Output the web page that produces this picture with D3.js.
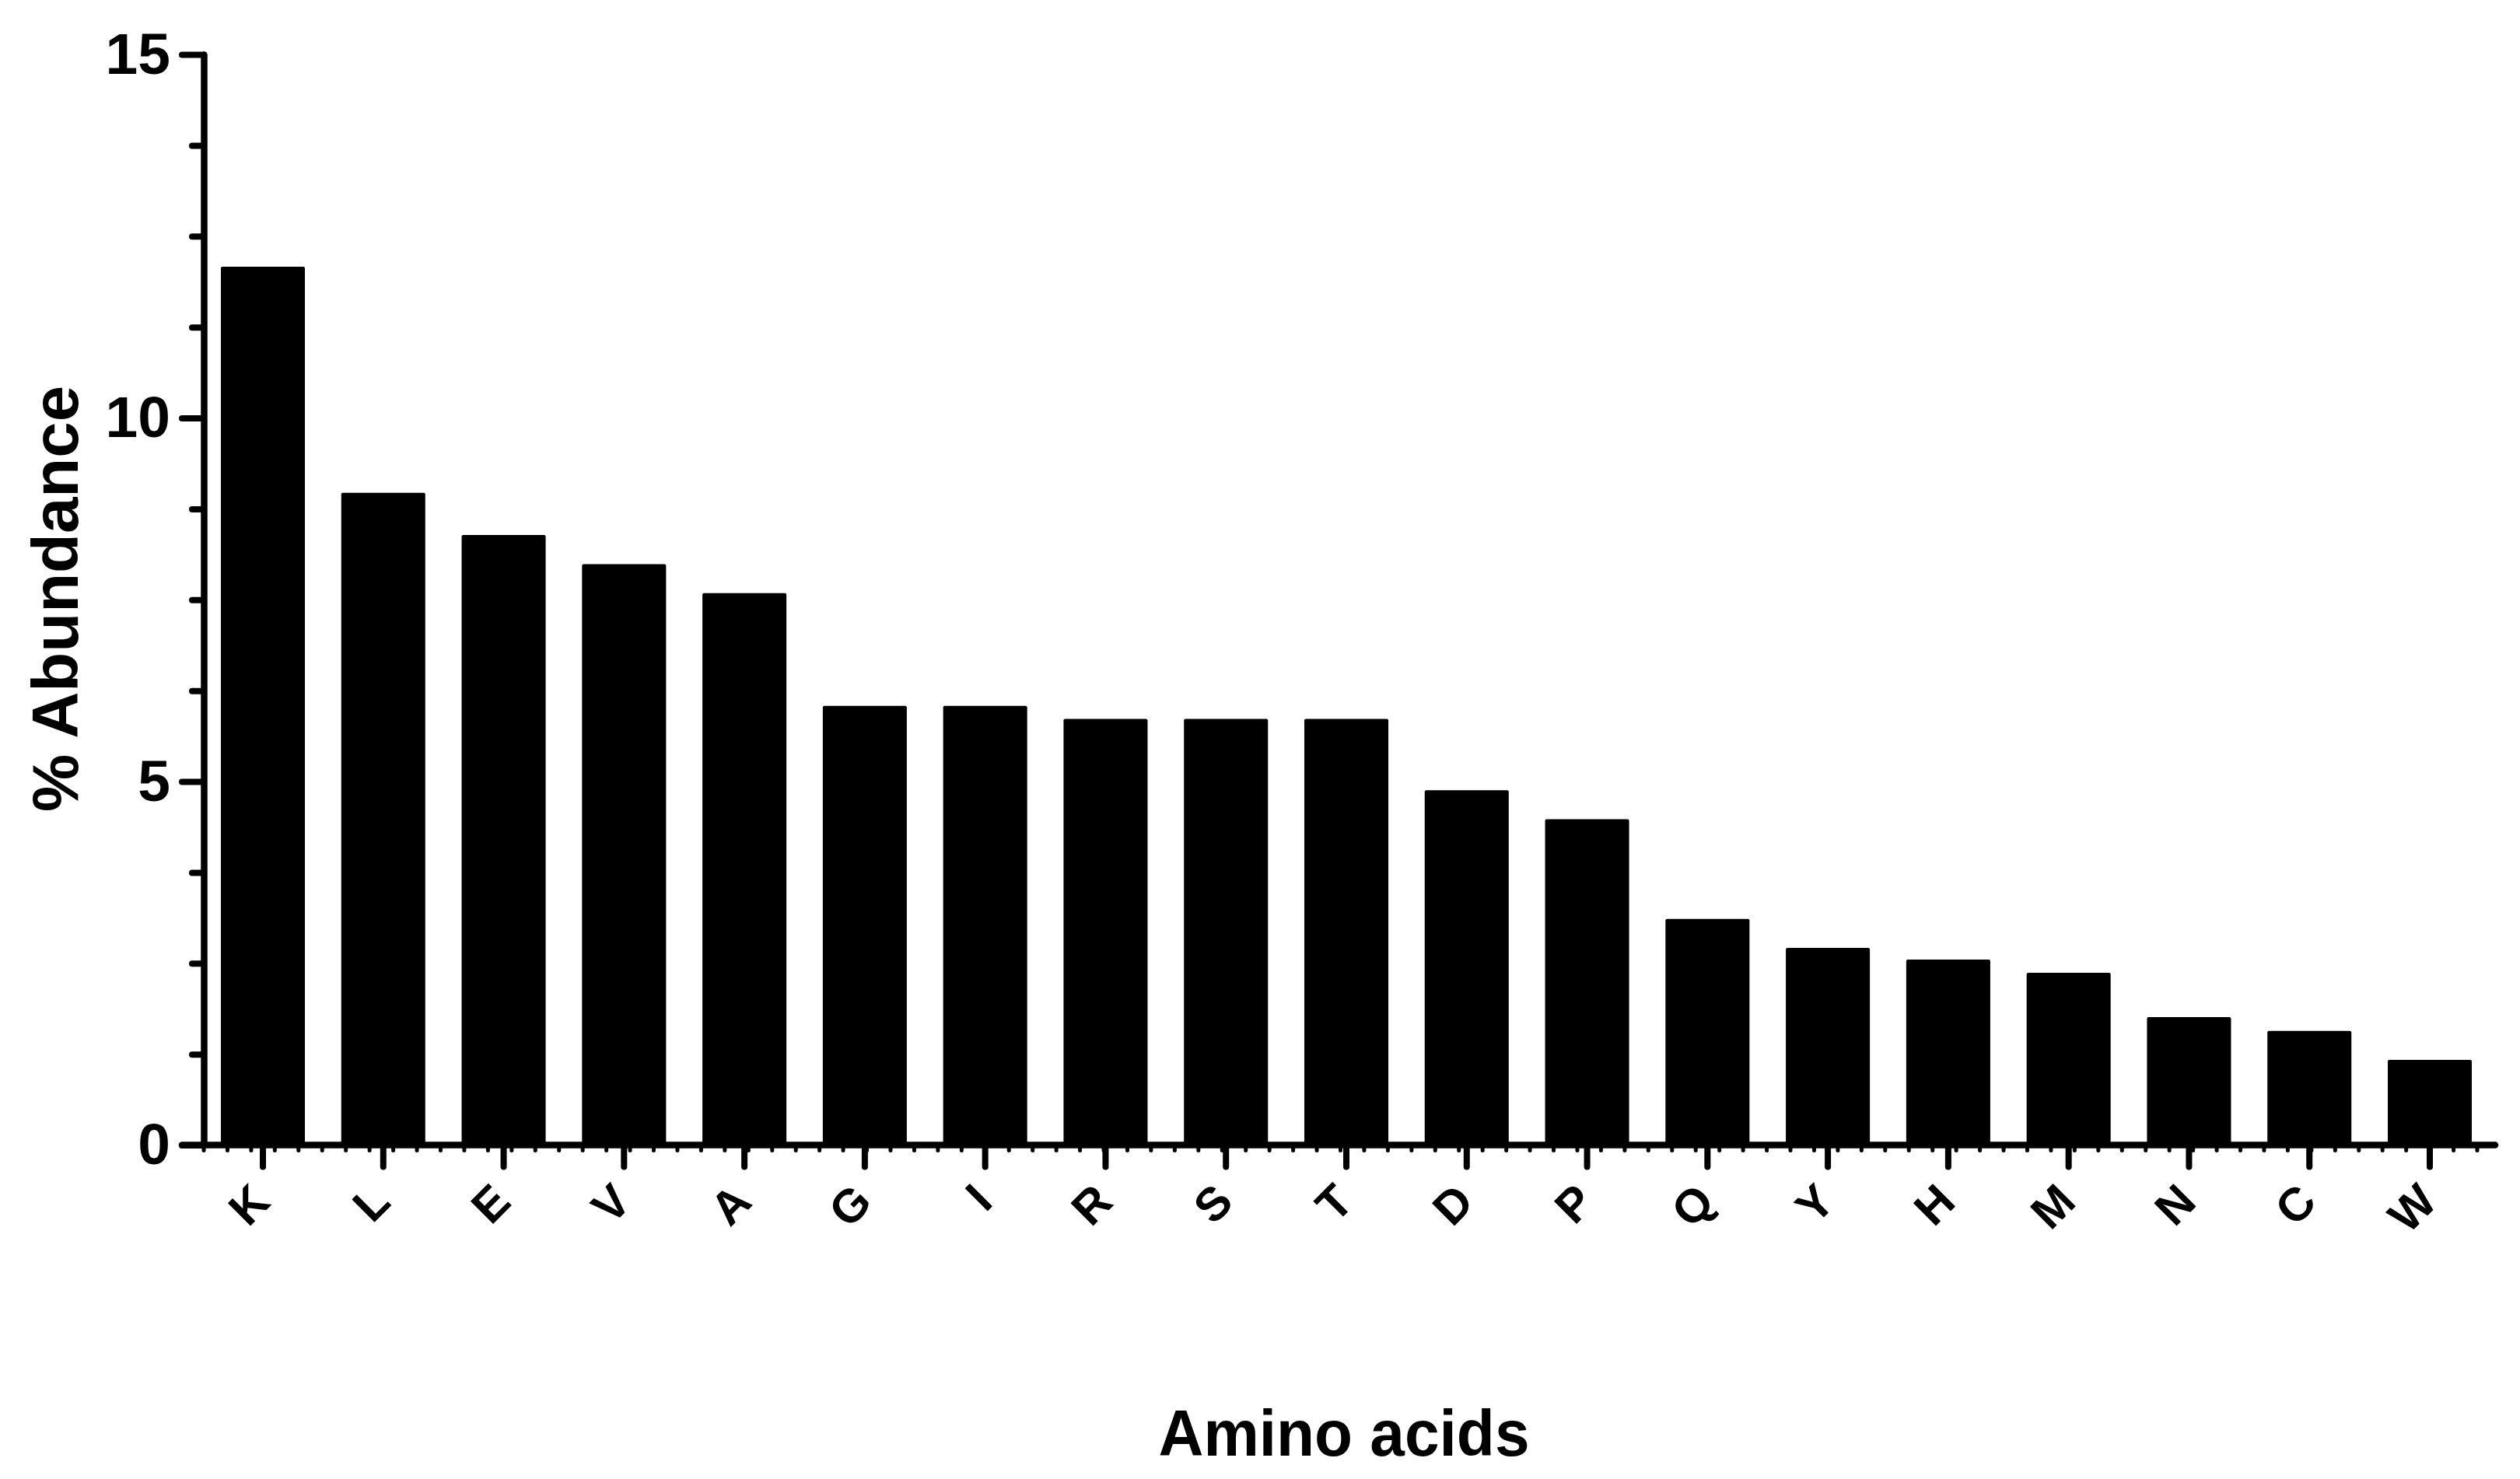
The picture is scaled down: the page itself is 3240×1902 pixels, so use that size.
<!DOCTYPE html>
<html>
<head>
<meta charset="utf-8">
<script src="https://cdn.jsdelivr.net/npm/d3@7"></script>
<style>
  html, body { margin: 0; padding: 0; background: #ffffff; }
  svg { display: block; }
  text { font-family: "Liberation Sans", Arial, Helvetica, sans-serif; font-weight: bold; fill: #000; }
</style>
</head>
<body>
<svg id="chart" width="3240" height="1902"></svg>
<script>
// ---- data ----
const categories = ["K","L","E","V","A","G","I","R","S","T","D","P","Q","Y","H","M","N","C","W"];
const abundance  = [12.08, 8.97, 8.39, 7.99, 7.59, 6.04, 6.04, 5.86, 5.86, 5.86, 4.88, 4.48, 3.11, 2.71, 2.55, 2.37, 1.76, 1.57, 1.17];
const yMajorTicks = [0, 5, 10, 15];
const yMinorTicks = [1.25, 2.5, 3.75, 6.25, 7.5, 8.75, 11.25, 12.5, 13.75];
const xTitle = "Amino acids";
const yTitle = "% Abundance";

// ---- layout ----
const W = 3240, H = 1902;
const axisX = 262, baseY = 1472.5, topY = 70;
const xEnd = 3208;
const svg = d3.select("#chart");
svg.append("rect").attr("width", W).attr("height", H).attr("fill", "#fff");

const y = d3.scaleLinear().domain([0, 15]).range([baseY, topY]);
const x = d3.scaleBand().domain(categories).range([axisX, 3200])
  .paddingInner(0.302).paddingOuter(0.142);

// bars
svg.append("g").selectAll("rect")
  .data(categories.map((c, i) => ({c, v: abundance[i]})))
  .join("rect")
  .attr("x", d => x(d.c))
  .attr("y", d => y(d.v))
  .attr("width", x.bandwidth())
  .attr("height", d => y(0) - y(d.v))
  .attr("rx", 2)
  .attr("fill", "#000");

// x axis minor decoration ticks
const minorX = d3.scaleLinear().domain([0, 96]).range([axisX, 3185]);
svg.append("g").selectAll("line")
  .data(d3.range(0, 97))
  .join("line")
  .attr("x1", d => minorX(d)).attr("x2", d => minorX(d))
  .attr("y1", baseY).attr("y2", baseY + 7)
  .attr("stroke", "#000").attr("stroke-width", 5).attr("stroke-linecap", "round");

// x axis line
svg.append("line")
  .attr("x1", axisX - 28).attr("x2", xEnd)
  .attr("y1", baseY).attr("y2", baseY)
  .attr("stroke", "#000").attr("stroke-width", 8.5).attr("stroke-linecap", "round");

// x axis major ticks + labels
const gx = svg.append("g").attr("transform", `translate(0,${baseY})`)
  .call(d3.axisBottom(x).tickSize(28).tickSizeOuter(0));
gx.select(".domain").remove();
gx.selectAll(".tick line")
  .attr("stroke", "#000").attr("stroke-width", 8).attr("stroke-linecap", "round");
gx.selectAll(".tick text")
  .attr("y", 0).attr("dy", 0)
  .attr("text-anchor", "end")
  .attr("transform", "translate(12,76) rotate(-45)")
  .style("font-size", "60px")
  .style("font-family", "'Liberation Sans', Arial, sans-serif")
  .style("font-weight", "bold")
  .attr("fill", "#000");

// y axis minor ticks
const gyMinor = svg.append("g").attr("transform", `translate(${axisX},0)`)
  .call(d3.axisLeft(y).tickValues(yMinorTicks).tickSize(15).tickFormat(""));
gyMinor.select(".domain").remove();
gyMinor.selectAll(".tick line")
  .attr("stroke", "#000").attr("stroke-width", 8).attr("stroke-linecap", "round");

// y axis major
const gy = svg.append("g").attr("transform", `translate(${axisX},0)`)
  .call(d3.axisLeft(y).tickValues(yMajorTicks).tickSize(28).tickSizeOuter(0).tickPadding(15));
gy.select(".domain")
  .attr("stroke", "#000").attr("stroke-width", 8.5).attr("stroke-linecap", "round");
gy.selectAll(".tick line")
  .attr("stroke", "#000").attr("stroke-width", 8).attr("stroke-linecap", "round");
gy.selectAll(".tick text")
  .attr("dy", "0.32em")
  .style("font-size", "75px")
  .style("font-family", "'Liberation Sans', Arial, sans-serif")
  .style("font-weight", "bold")
  .attr("fill", "#000");

// titles
svg.append("text")
  .attr("x", 1728).attr("y", 1872)
  .attr("text-anchor", "middle")
  .attr("textLength", 477).attr("lengthAdjust", "spacingAndGlyphs")
  .style("font-size", "84px")
  .text(xTitle);

svg.append("text")
  .attr("transform", "translate(100,770) rotate(-90)")
  .attr("text-anchor", "middle")
  .attr("textLength", 548).attr("lengthAdjust", "spacingAndGlyphs")
  .style("font-size", "84px")
  .text(yTitle);
</script>
</body>
</html>
